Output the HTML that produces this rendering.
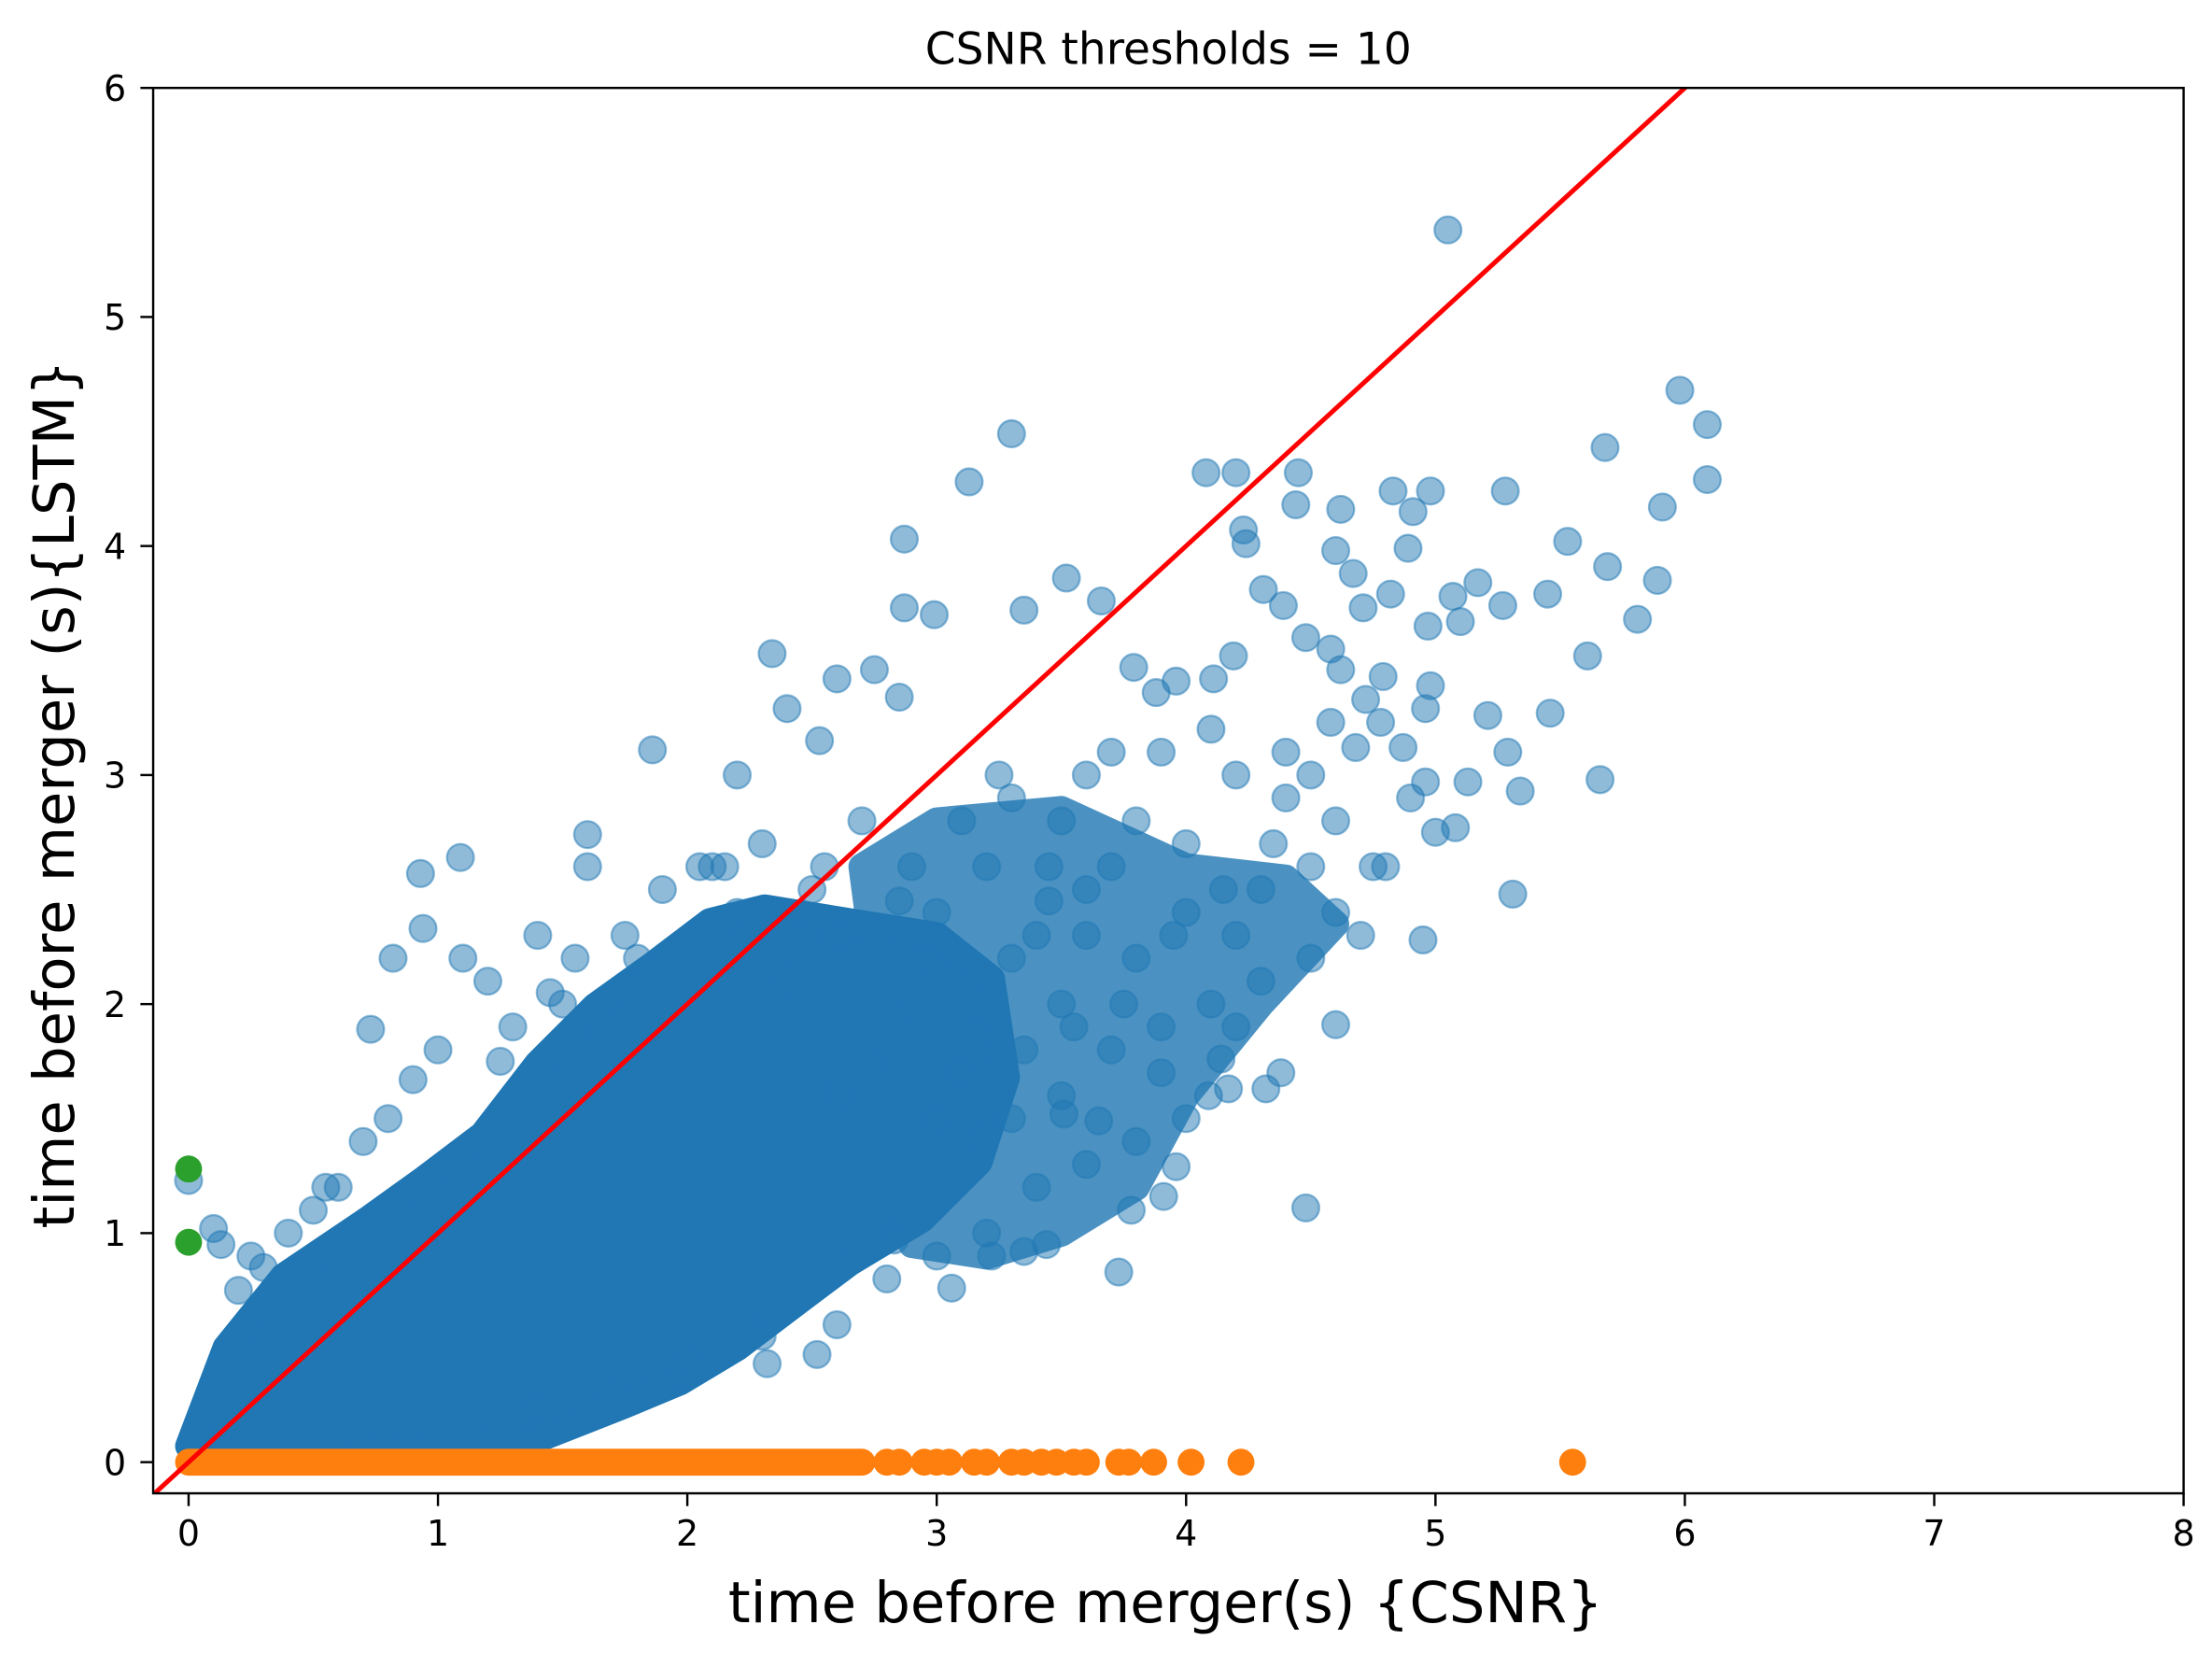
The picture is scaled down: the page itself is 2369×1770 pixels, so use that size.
<!DOCTYPE html>
<html><head><meta charset="utf-8"><style>
html,body{margin:0;padding:0;background:#fff;}
svg{display:block;font-family:"DejaVu Sans","Liberation Sans",sans-serif;}
</style></head><body>
<svg id="chart" width="2369" height="1770" viewBox="0 0 1560 1165.6" xmlns="http://www.w3.org/2000/svg">
<rect width="1560" height="1166" fill="#fff"/>
<g id="plot"></g>
<text x="824" y="45" font-size="31" text-anchor="middle">CSNR thresholds = 10</text>
<text x="822" y="1144" font-size="40" text-anchor="middle">time before merger(s) {CSNR}</text>
<text transform="translate(52,560) rotate(-90)" font-size="40" text-anchor="middle">time before merger (s){LSTM}</text>
</svg>
<script>
const xTicks=[0,1,2,3,4,5,6,7,8];
const yTicks=[0,1,2,3,4,5,6];
const blueX=[5.05,5.98,6.09,6.09,5.68,5.91,5.89,5.81,5.69,5.61,5.53,5.45,5.66,5.46,5.28,5.27,5.17,5.07,5.1,4.98,4.83,4.91,4.89,4.97,4.98,4.96,5.21,5.29,5.34,5.31,5.13,5.08,5.0,4.95,4.96,4.71,4.82,4.67,4.6,4.62,4.45,4.44,4.08,4.2,4.23,4.24,4.31,4.39,4.48,4.58,4.62,4.79,4.72,4.78,4.87,4.68,4.58,4.19,4.11,3.96,3.88,3.79,3.66,3.52,3.35,3.3,3.13,2.87,2.87,2.99,2.34,2.4,2.6,2.75,2.85,2.53,1.86,0.93,1.09,0.94,0.82,0.73,0.9,0.0,0.1,0.13,1.6,2.2,3.73,4.48,3.96,3.91,3.78,3.06,2.32,2.52,1.98,4.6,4.38,4.32,4.17,4.09,4.14,3.51,3.65,3.44,3.35,3.22,2.83,3.2,3.4,3.6,3.8,4.0,4.2,4.3,4.4,4.5,4.6,4.7,4.8,4.3,4.1,3.9,3.7,3.5,3.3,3.0,2.9,3.1,3.3,3.6,3.8,4.0,4.2,4.4,4.1,3.9,3.7,3.5,2.7,2.5,2.3,2.1,1.9,1.6,1.4,1.2,1.1,1.0,0.8,0.7,0.6,0.4,0.3,3.4,3.6,3.8,4.0,3.9,4.2,4.5,3.2,3.0,2.8,2.6,2.3,2.0,1.7,1.4,3.5,3.0,2.9,2.6,2.4,2.2,1.8,1.5,3.7,4.6,4.9,4.75,4.5,4.35,3.25,3.45,2.95,3.15,3.35,3.55,3.75,3.95,4.15,2.8,2.6,3.1,3.3,0.5,0.55,0.25,0.2,1.3,1.45,1.55,1.75,2.05,2.55,2.85,3.45,3.6,2.15,1.25];
const blueY=[5.38,4.68,4.53,4.29,4.43,4.17,3.85,3.68,3.91,3.52,4.02,3.79,2.98,3.27,4.24,3.74,3.84,3.78,3.67,4.24,4.24,4.15,3.99,3.65,3.39,3.29,3.26,3.1,2.93,2.48,2.97,2.77,2.75,2.28,2.97,3.73,3.79,3.88,3.98,4.16,4.32,4.18,4.32,4.32,4.07,4.01,3.81,3.74,3.6,3.55,3.46,3.43,3.33,3.23,3.12,3.12,3.23,3.52,3.42,3.41,3.36,3.47,3.76,3.86,3.72,4.49,4.28,4.03,3.73,3.7,3.53,3.29,3.42,3.46,3.34,3.15,3.11,2.57,2.64,2.33,2.2,1.89,1.67,1.23,1.02,0.95,2.74,3.0,0.83,1.11,1.29,1.16,1.1,0.76,0.43,0.47,0.38,1.91,1.7,1.63,1.63,1.6,1.76,1.52,1.49,0.95,0.92,0.9,0.97,2.6,2.3,2.5,2.2,2.4,2.3,2.5,2.9,2.6,2.4,2.3,2.6,2.1,2.0,1.9,1.8,2.0,2.2,2.4,2.6,2.8,2.9,3.0,2.8,2.7,3.0,3.1,3.2,3.1,3.1,2.8,2.8,2.5,2.7,2.6,2.5,2.6,2.3,2.1,2.2,1.8,1.5,1.4,1.2,1.0,0.85,1.2,1.3,1.4,1.5,1.7,1.9,2.2,1.0,0.9,0.8,0.6,0.55,0.45,0.3,0.25,1.6,1.5,2.0,2.3,2.1,2.4,2.2,2.0,2.6,2.8,2.9,2.6,3.0,2.7,3.0,2.6,2.2,2.0,1.8,1.9,2.0,2.3,2.5,1.8,1.6,1.7,1.5,1.1,1.2,0.9,0.75,1.9,2.05,2.2,2.3,2.6,2.6,2.45,2.45,2.3,2.6,1.75];
const midX=[2.7,3.0,3.5,4.0,4.4,4.6,4.3,4.0,3.8,3.5,3.2,2.9];
const midY=[2.6,2.8,2.85,2.6,2.55,2.35,2.0,1.6,1.2,1.0,0.9,0.95];
const coreX=[0.0,0.15,0.38,0.72,0.95,1.18,1.4,1.63,1.86,2.09,2.31,2.65,3.0,3.22,3.28,3.17,2.94,2.65,2.43,2.2,1.97,1.75,1.4,0.95,0.38];
const coreY=[0.07,0.5,0.81,1.06,1.24,1.43,1.74,1.99,2.17,2.36,2.42,2.36,2.3,2.11,1.68,1.31,1.06,0.87,0.69,0.5,0.35,0.25,0.1,0.05,0.02];
const orangeRange=[0.0,2.7];
const orangeX=[2.8,2.85,2.95,3.0,3.05,3.15,3.2,3.3,3.35,3.42,3.48,3.55,3.6,3.73,3.77,3.87,4.02,4.22,5.55];
const greenX=[0,0];
const greenY=[1.28,0.96];
const X0=108,X1=1540,Y0=62,Y1=1053,xmin=-0.142,xmax=8,ymin=-0.136,ymax=6;
const sx=v=>X0+(v-xmin)/(xmax-xmin)*(X1-X0);
const sy=v=>Y1-(v-ymin)/(ymax-ymin)*(Y1-Y0);
const NS='http://www.w3.org/2000/svg';
const plot=document.getElementById('plot');
function mk(t,a){const e=document.createElementNS(NS,t);for(const k in a)e.setAttribute(k,a[k]);plot.appendChild(e);return e;}
const clip=mk('clipPath',{id:'c'});
const cr=document.createElementNS(NS,'rect');cr.setAttribute('x',X0);cr.setAttribute('y',Y0);cr.setAttribute('width',X1-X0);cr.setAttribute('height',Y1-Y0);clip.appendChild(cr);
const g=mk('g',{'clip-path':'url(#c)'});
function add(t,a,parent){const e=document.createElementNS(NS,t);for(const k in a)e.setAttribute(k,a[k]);(parent||g).appendChild(e);return e;}
const R=9.5;
const midG=add('g',{opacity:0.8});
const mid=add('polygon',{points:midX.map((x,i)=>sx(x)+','+sy(midY[i])).join(' '),fill:'#1f77b4',stroke:'#1f77b4','stroke-width':2*R,'stroke-linejoin':'round'},midG);


const core=add('polygon',{points:coreX.map((x,i)=>sx(x)+','+sy(coreY[i])).join(' '),fill:'#2077b4',stroke:'#2077b4','stroke-width':2*R,'stroke-linejoin':'round'});


blueX.forEach((x,i)=>{const c=add('circle',{cx:sx(x),cy:sy(blueY[i]),r:R,fill:'#1f77b4','fill-opacity':0.5,stroke:'#1f77b4','stroke-opacity':0.5,'stroke-width':1.5});

});
const ob=add('line',{x1:sx(orangeRange[0]),y1:sy(0),x2:sx(orangeRange[1]),y2:sy(0),stroke:'#ff7f0e','stroke-width':2*R,'stroke-linecap':'round'});


orangeX.forEach(x=>{const c=add('circle',{cx:sx(x),cy:sy(0),r:R,fill:'#ff7f0e'});

});
greenX.forEach((x,i)=>{const c=add('circle',{cx:sx(x),cy:sy(greenY[i]),r:R,fill:'#2ca02c'});

});
const ln=add('line',{x1:sx(xmin),y1:sy(xmin),x2:sx(7),y2:sy(7),stroke:'#ff0000','stroke-width':3.3});


const fr=mk('rect',{x:X0,y:Y0,width:X1-X0,height:Y1-Y0,fill:'none',stroke:'#000','stroke-width':1.6});


xTicks.forEach(t=>{mk('line',{x1:sx(t),x2:sx(t),y1:Y1,y2:Y1+9,stroke:'#000','stroke-width':1.6});
const tx=mk('text',{x:sx(t),y:Y1+37,'font-size':25,'text-anchor':'middle'});tx.textContent=t;

});
yTicks.forEach(t=>{mk('line',{x1:X0-9,x2:X0,y1:sy(t),y2:sy(t),stroke:'#000','stroke-width':1.6});
const tx=mk('text',{x:X0-19,y:sy(t)+9,'font-size':25,'text-anchor':'end'});tx.textContent=t;

});
</script>
</body></html>
